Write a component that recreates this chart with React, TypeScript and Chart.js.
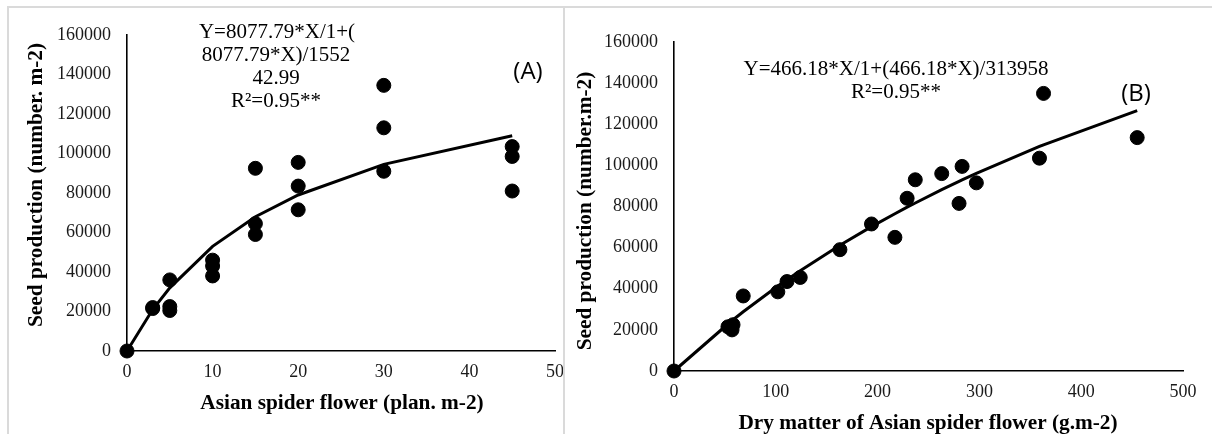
import React, { useEffect, useRef } from "react";
import { Chart, registerables } from "chart.js";

Chart.register(...registerables);

// ---------- Panel A data ----------
const densityA = [0, 3, 3, 5, 5, 5, 10, 10, 10, 15, 15, 15, 20, 20, 20, 30, 30, 30, 45, 45, 45];
const seedA = [0, 22000, 21500, 36000, 22500, 20500, 46000, 43000, 38000, 92500, 64500, 59000, 95500, 83500, 71500, 134500, 113000, 91000, 103500, 98500, 81000];
const fitXA = [0, 3, 5, 10, 15, 20, 30, 45];
const fitYA = [0, 21000, 32000, 53000, 68000, 79000, 94500, 109000];
const xTicksA = [0, 10, 20, 30, 40, 50];

// ---------- Panel B data ----------
const dryB = [0, 53, 57, 58, 68, 102, 111, 124, 163, 194, 217, 229, 237, 263, 280, 283, 297, 359, 363, 455];
const seedB = [0, 21500, 20000, 22500, 36500, 38500, 43500, 45500, 59000, 71500, 65000, 84000, 93000, 96000, 81500, 99500, 91500, 103500, 135000, 113500];
const fitXB = [0, 55, 68, 102, 111, 124, 163, 194, 217, 229, 237, 263, 280, 283, 297, 359, 363, 455];
const fitYB = [0, 23700, 28800, 41300, 44400, 48800, 61200, 70200, 76500, 79700, 81700, 88200, 92200, 92900, 96100, 109200, 110000, 126600];
const xTicksB = [0, 100, 200, 300, 400, 500];

const yTicks = [0, 20000, 40000, 60000, 80000, 100000, 120000, 140000, 160000];

// ---------- Texts ----------
const eqA = ["Y=8077.79*X/1+(", "8077.79*X)/1552", "42.99", "R\u00B2=0.95**"];
const eqB = ["Y=466.18*X/1+(466.18*X)/313958", "R\u00B2=0.95**"];
const tagA = "(A)";
const tagB = "(B)";
const xTitleA = "Asian spider flower (plan. m-2)";
const xTitleB = "Dry matter of Asian spider flower (g.m-2)";
const yTitleA = "Seed production (number. m-2)";
const yTitleB = "Seed production (number.m-2)";

const SERIF = "'Liberation Serif', 'Times New Roman', serif";
const SANS = "'Open Sans', 'Liberation Sans', sans-serif";

type Txt = { text: string; x: number; y: number; font: string; rotate?: boolean };

function textPlugin(items: Txt[]) {
  return {
    id: "texts",
    afterDraw(chart: any) {
      const ctx = chart.ctx as CanvasRenderingContext2D;
      ctx.save();
      ctx.fillStyle = "#000";
      ctx.textBaseline = "middle";
      ctx.textAlign = "center";
      for (const t of items) {
        ctx.save();
        ctx.font = t.font;
        ctx.translate(t.x, t.y);
        if (t.rotate) ctx.rotate(-Math.PI / 2);
        ctx.fillText(t.text, 0, 0);
        ctx.restore();
      }
      ctx.restore();
    },
  };
}

type PanelProps = {
  width: number;
  height: number;
  left: number;
  px: number[];
  py: number[];
  fx: number[];
  fy: number[];
  xTicks: number[];
  yAxisWidth: number;
  padTop: number;
  padRight: number;
  xAxisHeight: number;
  texts: Txt[];
};

function Panel(p: PanelProps) {
  const ref = useRef<HTMLCanvasElement | null>(null);
  useEffect(() => {
    if (!ref.current) return;
    const xMin = p.xTicks[0];
    const xMax = p.xTicks[p.xTicks.length - 1];
    const xStep = p.xTicks[1] - p.xTicks[0];
    const chart = new Chart(ref.current, {
      type: "scatter",
      data: {
        datasets: [
          {
            type: "line",
            data: p.fx.map((x, i) => ({ x, y: p.fy[i] })),
            borderColor: "#000",
            borderWidth: 3,
            pointRadius: 0,
            fill: false,
            tension: 0,
            clip: false as any,
            order: 2,
          } as any,
          {
            type: "scatter",
            data: p.px.map((x, i) => ({ x, y: p.py[i] })),
            backgroundColor: "#000",
            borderColor: "#000",
            pointRadius: 7,
            pointHoverRadius: 7,
            clip: false as any,
            order: 1,
          } as any,
        ],
      },
      options: {
        animation: false,
        responsive: false,
        events: [],
        layout: { padding: { left: 0, top: p.padTop, right: p.padRight, bottom: 0 } },
        plugins: { legend: { display: false }, tooltip: { enabled: false } },
        scales: {
          x: {
            type: "linear",
            min: xMin,
            max: xMax,
            grid: { display: false, drawTicks: false },
            border: { display: true, color: "#000", width: 1.6 },
            ticks: {
              stepSize: xStep,
              padding: 10,
              color: "#1a1a1a",
              font: { family: SERIF, size: 18 },
              maxRotation: 0,
              autoSkip: false,
              callback: (v: any) => String(v),
            },
            afterFit: (s: any) => {
              s.height = p.xAxisHeight;
              s.paddingLeft = 0;
              s.paddingRight = 0;
            },
          },
          y: {
            type: "linear",
            min: yTicks[0],
            max: yTicks[yTicks.length - 1],
            grid: { display: false, drawTicks: false },
            border: { display: true, color: "#000", width: 1.6 },
            ticks: {
              stepSize: yTicks[1] - yTicks[0],
              padding: 16,
              color: "#1a1a1a",
              font: { family: SERIF, size: 18 },
              autoSkip: false,
              callback: (v: any) => String(v),
            },
            afterFit: (s: any) => {
              s.width = p.yAxisWidth;
              s.paddingTop = 0;
              s.paddingBottom = 0;
            },
          },
        },
      } as any,
      plugins: [textPlugin(p.texts) as any],
    });
    return () => chart.destroy();
  }, []);
  return (
    <canvas
      ref={ref}
      width={p.width}
      height={p.height}
      style={{ position: "absolute", left: p.left, top: 0, width: p.width, height: p.height }}
    />
  );
}

export default function App() {
  const eqFont = `21px ${SERIF}`;
  const titleFont = `bold 21.3px ${SERIF}`;
  const tagFont = `24px ${SANS}`;

  const textsA: Txt[] = [
    { text: eqA[0], x: 277, y: 32, font: eqFont },
    { text: eqA[1], x: 276, y: 55, font: eqFont },
    { text: eqA[2], x: 276, y: 78, font: eqFont },
    { text: eqA[3], x: 276, y: 101, font: eqFont },
    { text: tagA, x: 528, y: 72, font: tagFont },
    { text: xTitleA, x: 342, y: 403, font: titleFont },
    { text: yTitleA, x: 36, y: 185, font: titleFont, rotate: true },
  ];
  const textsB: Txt[] = [
    { text: eqB[0], x: 331, y: 69, font: eqFont },
    { text: eqB[1], x: 331, y: 92, font: eqFont },
    { text: tagB, x: 571, y: 94, font: tagFont },
    { text: xTitleB, x: 363, y: 423, font: titleFont },
    { text: yTitleB, x: 20, y: 211, font: titleFont, rotate: true },
  ];

  return (
    <div
      style={{
        position: "absolute",
        left: 0,
        top: 0,
        width: 1212,
        height: 434,
        background: "#fff",
        overflow: "hidden",
      }}
    >
      <Panel
        width={563}
        height={434}
        left={0}
        px={densityA}
        py={seedA}
        fx={fitXA}
        fy={fitYA}
        xTicks={xTicksA}
        yAxisWidth={127}
        padTop={35}
        padRight={6}
        xAxisHeight={83}
        texts={textsA}
      />
      <Panel
        width={647}
        height={434}
        left={565}
        px={dryB}
        py={seedB}
        fx={fitXB}
        fy={fitYB}
        xTicks={xTicksB}
        yAxisWidth={109}
        padTop={42}
        padRight={29}
        xAxisHeight={63}
        texts={textsB}
      />
      <div style={{ position: "absolute", left: 7, top: 6, width: 1205, height: 2, background: "#dadada" }} />
      <div style={{ position: "absolute", left: 7, top: 6, width: 2, height: 428, background: "#dadada" }} />
      <div style={{ position: "absolute", left: 563, top: 6, width: 2, height: 428, background: "#dadada" }} />
    </div>
  );
}
